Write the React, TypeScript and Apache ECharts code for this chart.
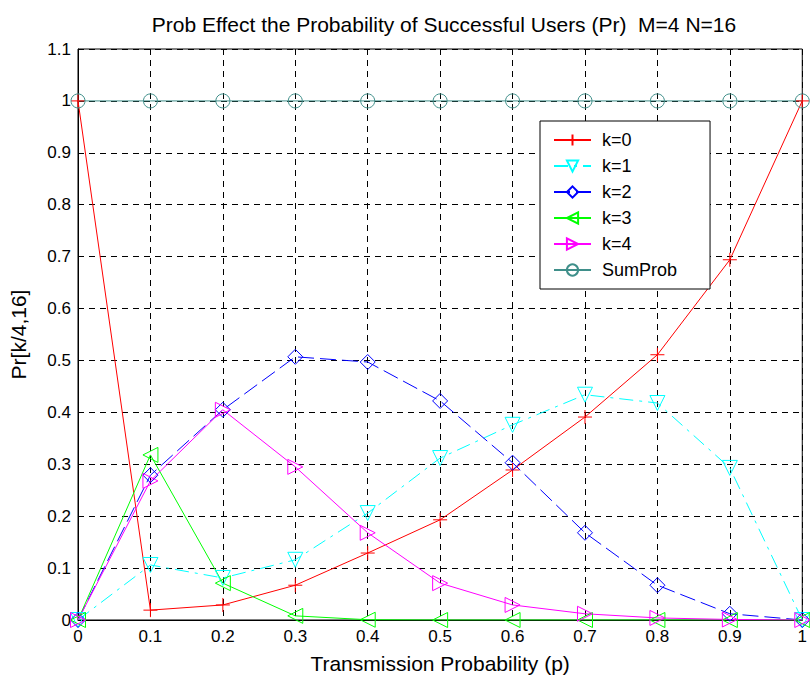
import React, { useEffect, useRef } from "react";
import * as echarts from "echarts";

const pValues = [0, 0.1, 0.2, 0.3, 0.4, 0.5, 0.6, 0.7, 0.8, 0.9, 1.0];
const k0 = [1.0, 0.019, 0.029, 0.067, 0.129, 0.193, 0.289, 0.391, 0.511, 0.694, 1.0];
const k1 = [0, 0.106, 0.081, 0.116, 0.206, 0.312, 0.376, 0.434, 0.418, 0.293, 0];
const k2 = [0, 0.279, 0.405, 0.507, 0.497, 0.422, 0.303, 0.168, 0.067, 0.012, 0];
const k3 = [0, 0.318, 0.071, 0.008, 0.0005, 0, 0, 0, 0, 0, 0];
const k4 = [0, 0.268, 0.405, 0.295, 0.168, 0.071, 0.029, 0.012, 0.004, 0.001, 0];
const sumProb = [1, 1, 1, 1, 1, 1, 1, 1, 1, 1, 1];
const seriesNames = ["k=0", "k=1", "k=2", "k=3", "k=4", "SumProb"];

const FONT = "Liberation Sans, Arial, sans-serif";

export default function App() {
  const ref = useRef<HTMLDivElement>(null);
  useEffect(() => {
    if (!ref.current) return;
    const chart = echarts.init(ref.current, undefined, { renderer: "svg" });
    const toPairs = (ys: number[]) => pValues.map((x, i) => [x, ys[i]]);
    const mk = (
      name: string,
      ys: number[],
      color: string,
      symbol: string,
      size: number,
      lineType: any
    ) => ({
      type: "line",
      name,
      data: toPairs(ys),
      symbol,
      symbolSize: size,
      showAllSymbol: true,
      lineStyle: { color, width: 1, type: lineType },
      itemStyle: { color: "transparent", borderColor: color, borderWidth: 1 },
      emphasis: { disabled: true },
      z: 3,
    });
    const fmt = (v: number) => String(Math.round(v * 10) / 10);
    chart.setOption({
      animation: false,
      backgroundColor: "#fff",
      title: {
        text: "Prob Effect the Probability of Successful Users (Pr)  M=4 N=16",
        left: 439,
        textAlign: "center",
        top: 9,
        textStyle: { fontFamily: FONT, fontSize: 21, fontWeight: "normal", color: "#000" },
      },
      grid: {
        left: 78,
        right: 7,
        top: 49,
        bottom: 60,
        show: true,
        borderColor: "#000",
        borderWidth: 1,
      },
      legend: {
        orient: "vertical",
        left: 540,
        top: 121,
        data: seriesNames,
        backgroundColor: "#fff",
        borderColor: "#000",
        borderWidth: 1,
        padding: [10, 33, 10, 13],
        itemWidth: 37,
        itemHeight: 14,
        itemGap: 8,
        textStyle: { fontFamily: FONT, fontSize: 18, color: "#000", padding: [0, 0, 0, 6] },
        selectedMode: false,
      },
      xAxis: {
        type: "value",
        min: 0,
        max: 1,
        interval: 0.1,
        name: "Transmission Probability (p)",
        nameLocation: "middle",
        nameGap: 33,
        nameTextStyle: { fontFamily: FONT, fontSize: 21, color: "#000" },
        axisLine: { show: true, lineStyle: { color: "#000", width: 1 } },
        axisTick: { show: false },
        axisLabel: { formatter: fmt, fontFamily: FONT, fontSize: 17, color: "#000", margin: 8 },
        splitLine: { show: true, lineStyle: { color: "#000", type: [6, 5], width: 1 } },
      },
      yAxis: {
        type: "value",
        min: 0,
        max: 1.1,
        interval: 0.1,
        name: "Pr[k/4,16]",
        nameLocation: "middle",
        nameGap: 49,
        nameTextStyle: { fontFamily: FONT, fontSize: 21, color: "#000" },
        axisLine: { show: true, lineStyle: { color: "#000", width: 1 } },
        axisTick: { show: false },
        axisLabel: { formatter: fmt, fontFamily: FONT, fontSize: 17, color: "#000", margin: 7 },
        splitLine: { show: true, lineStyle: { color: "#000", type: [6, 5], width: 1 } },
      },
      series: [
        mk("k=0", k0, "#ff0000", "path://M0,-1 L0,1 M-1,0 L1,0", 14, "solid"),
        mk("k=1", k1, "#00ffff", "path://M-1,-1 L1,-1 L0,1 Z", 15, [14, 6, 3, 6]),
        mk("k=2", k2, "#0000ff", "path://M0,-1 L1,0 L0,1 L-1,0 Z", 15, [16, 6]),
        mk("k=3", k3, "#00ff00", "path://M1,-1 L1,1 L-1,0 Z", 15, "solid"),
        mk("k=4", k4, "#ff00ff", "path://M-1,-1 L-1,1 L1,0 Z", 15, "solid"),
        mk("SumProb", sumProb, "#3f8f8a", "circle", 14, "solid"),
      ],
    });
    return () => chart.dispose();
  }, []);
  return <div ref={ref} style={{ width: 810, height: 680, position: "absolute", left: 0, top: 0 }} />;
}
